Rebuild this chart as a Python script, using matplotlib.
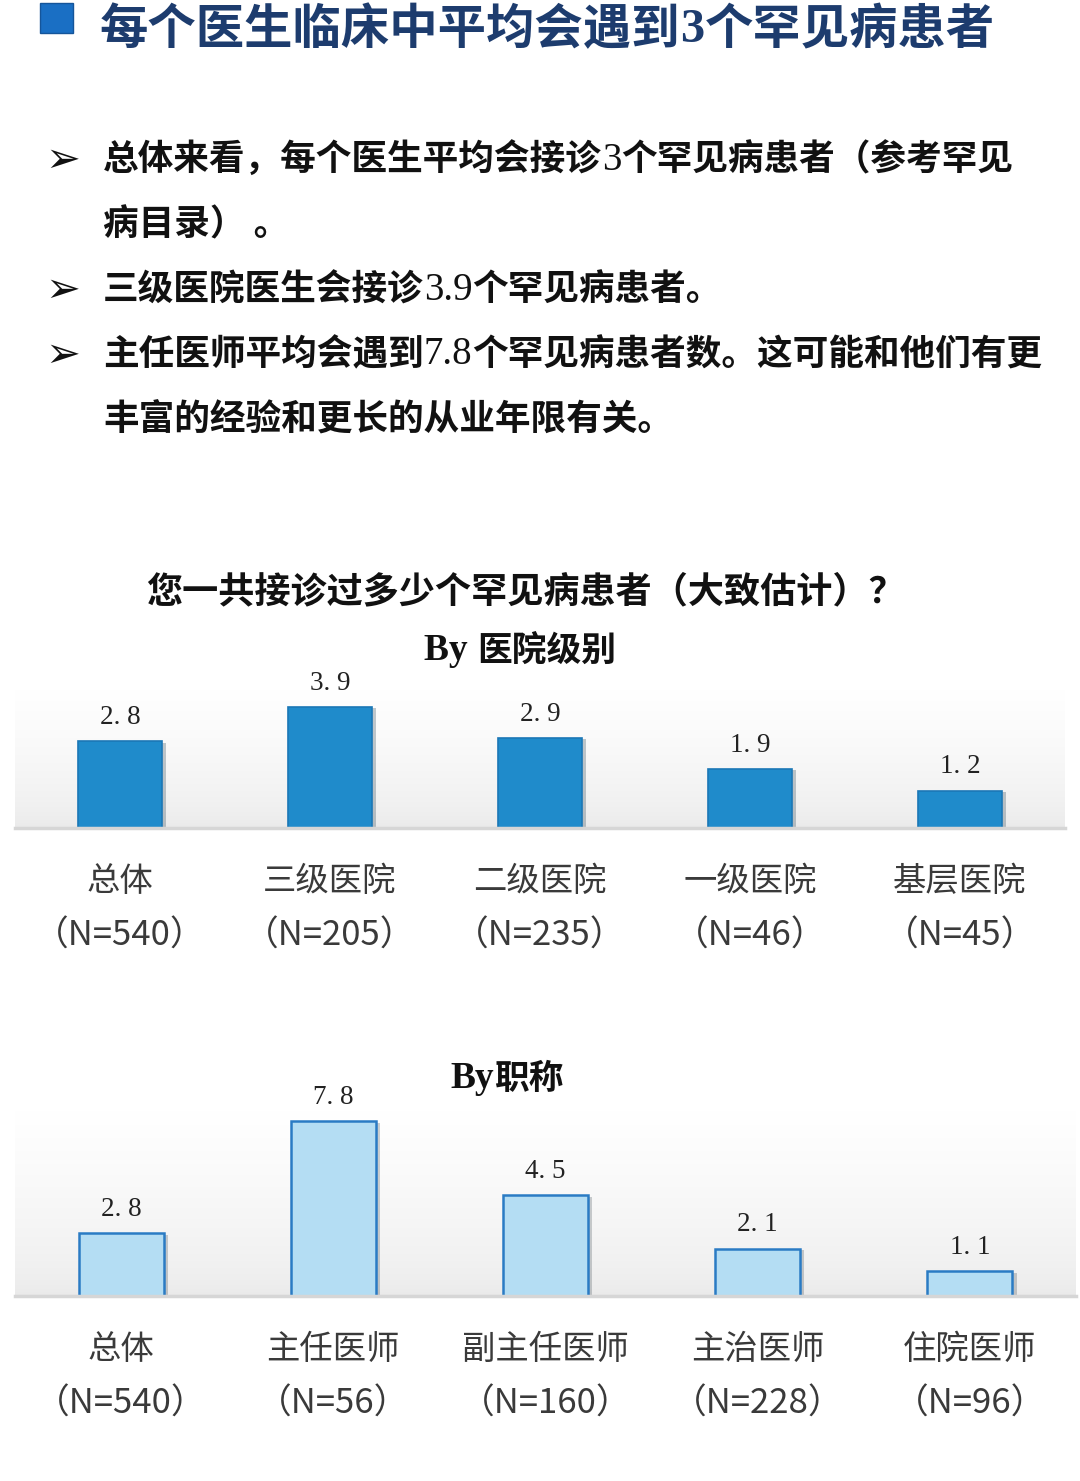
import matplotlib
matplotlib.use('Agg')
import matplotlib.pyplot as plt
import matplotlib.patheffects as pe
from matplotlib.patches import Rectangle
from matplotlib.colors import LinearSegmentedColormap
import numpy as np

CJK = 'Noto Sans CJK SC'
SERIF = 'Liberation Serif'
plt.rcParams['font.family'] = [CJK, 'DejaVu Sans']

# data: by hospital level
hosp_labels = ['总体', '三级医院', '二级医院', '一级医院', '基层医院']
hosp_n = [540, 205, 235, 46, 45]
hosp_vals = [2.8, 3.9, 2.9, 1.9, 1.2]

# data: by professional title
rank_labels = ['总体', '主任医师', '副主任医师', '主治医师', '住院医师']
rank_n = [540, 56, 160, 228, 96]
rank_vals = [2.8, 7.8, 4.5, 2.1, 1.1]

W, H = 1080, 1481
fig = plt.figure(figsize=(W / 100, H / 100), dpi=100)
fig.patch.set_facecolor('white')
renderer = fig.canvas.get_renderer()


def fx(px):
    return px / W


def fy(py):
    return 1 - py / H


def put_runs(x, y, runs, ha='left'):
    # draw pieces of text one after another (mixed fonts on one line)
    objs = [fig.text(0, y, s, va='center', ha='left', **kw) for s, kw in runs]
    widths = [t.get_window_extent(renderer).width for t in objs]
    start = x * W if ha == 'left' else x * W - sum(widths) / 2
    for t, w in zip(objs, widths):
        t.set_x(start / W)
        start += w


# header
fig.patches.append(Rectangle((fx(40), fy(33)), 33 / W, 30 / H, transform=fig.transFigure,
                             facecolor='#1a6fc4', edgecolor='#15559a', lw=1, figure=fig))
hd = dict(family=[CJK], fontsize=34.8, fontweight='bold', color='#1d3c6e')
put_runs(fx(100), fy(30), [('每个医生临床中平均会遇到', hd),
                           ('3', dict(hd, family=[SERIF])),
                           ('个罕见病患者', hd)])

# bullet points
B = dict(family=[CJK], fontsize=25.7, fontweight='bold', color='#111111')
S = dict(family=[SERIF], fontsize=28, color='#111111')
for yy in [160, 290, 355]:
    fig.text(fx(63), fy(yy), '➢', family=['DejaVu Sans'], fontsize=30,
             ha='center', va='center', color='#111111')
put_runs(fx(103), fy(160), [('总体来看，每个医生平均会接诊', B), ('3', S), ('个罕见病患者（参考罕见', B)])
put_runs(fx(103), fy(225), [('病目录） 。', B)])
put_runs(fx(103), fy(290), [('三级医院医生会接诊', B), ('3.9', S), ('个罕见病患者。', B)])
put_runs(fx(103), fy(355), [('主任医师平均会遇到', B), ('7.8', S), ('个罕见病患者数。这可能和他们有更', B)])
put_runs(fx(103), fy(420), [('丰富的经验和更长的从业年限有关。', B)])

# chart titles
fig.text(fx(525), fy(592), '您一共接诊过多少个罕见病患者（大致估计）？', family=[CJK],
         fontsize=26, fontweight='bold', color='#111111', ha='center', va='center')
T = dict(family=[CJK], fontsize=25, fontweight='bold', color='#111111')
TS = dict(family=[SERIF], fontsize=27, fontweight='bold', color='#111111')
put_runs(fx(520), fy(650), [('By ', TS), ('医院级别', T)], ha='center')
put_runs(fx(507), fy(1078), [('By', TS), ('职称', T)], ha='center')

bg = LinearSegmentedColormap.from_list('bg', ['#e9e9e9', '#ffffff'])


def draw_chart(l, top, r, bottom, labels, ns, vals, ymax, face, edge, lw):
    ax = fig.add_axes([fx(l), fy(bottom), (r - l) / W, (bottom - top) / H])
    n = len(vals)
    x = np.arange(n)
    grad = np.linspace(1, 0, 256).reshape(-1, 1) ** 0.6
    ax.imshow(grad, extent=[-0.5, n - 0.5, 0, ymax], aspect='auto', cmap=bg,
              vmin=0, vmax=1, zorder=0)
    ax.bar(x, vals, width=0.4, color=face, edgecolor=edge, linewidth=lw, zorder=3,
           path_effects=[pe.SimplePatchShadow(offset=(3, -1), alpha=0.25), pe.Normal()])
    ax.axhline(0, color='#d6d6d6', lw=2.5, zorder=4, clip_on=False)
    for i, v in enumerate(vals):
        ax.annotate(f'{v:.1f}'.replace('.', '. '), xy=(i, v), xytext=(0, 24 * 0.72),
                    textcoords='offset points', ha='center', va='center',
                    family=[SERIF], fontsize=19.5, color='#222222')
        ax.annotate(labels[i], xy=(i, 0), xytext=(0, -53 * 0.72), textcoords='offset points',
                    ha='center', va='center', fontsize=24, color='#3a3a3a')
        ax.annotate(f'（N={ns[i]}）', xy=(i, 0), xytext=(0, -108 * 0.72),
                    textcoords='offset points', ha='center', va='center',
                    fontsize=25, color='#3a3a3a')
    ax.set_xlim(-0.5, n - 0.5)
    ax.set_ylim(0, ymax)
    ax.axis('off')
    return ax


draw_chart(15, 690, 1065, 828, hosp_labels, hosp_n, hosp_vals, 4.45,
           '#1f8bcb', '#1b77b6', 1.2)
draw_chart(15, 1110, 1076, 1296, rank_labels, rank_n, rank_vals, 8.3,
           '#b4ddf3', '#2a7bc4', 1.8)

fig.savefig('out.png', dpi=100)
